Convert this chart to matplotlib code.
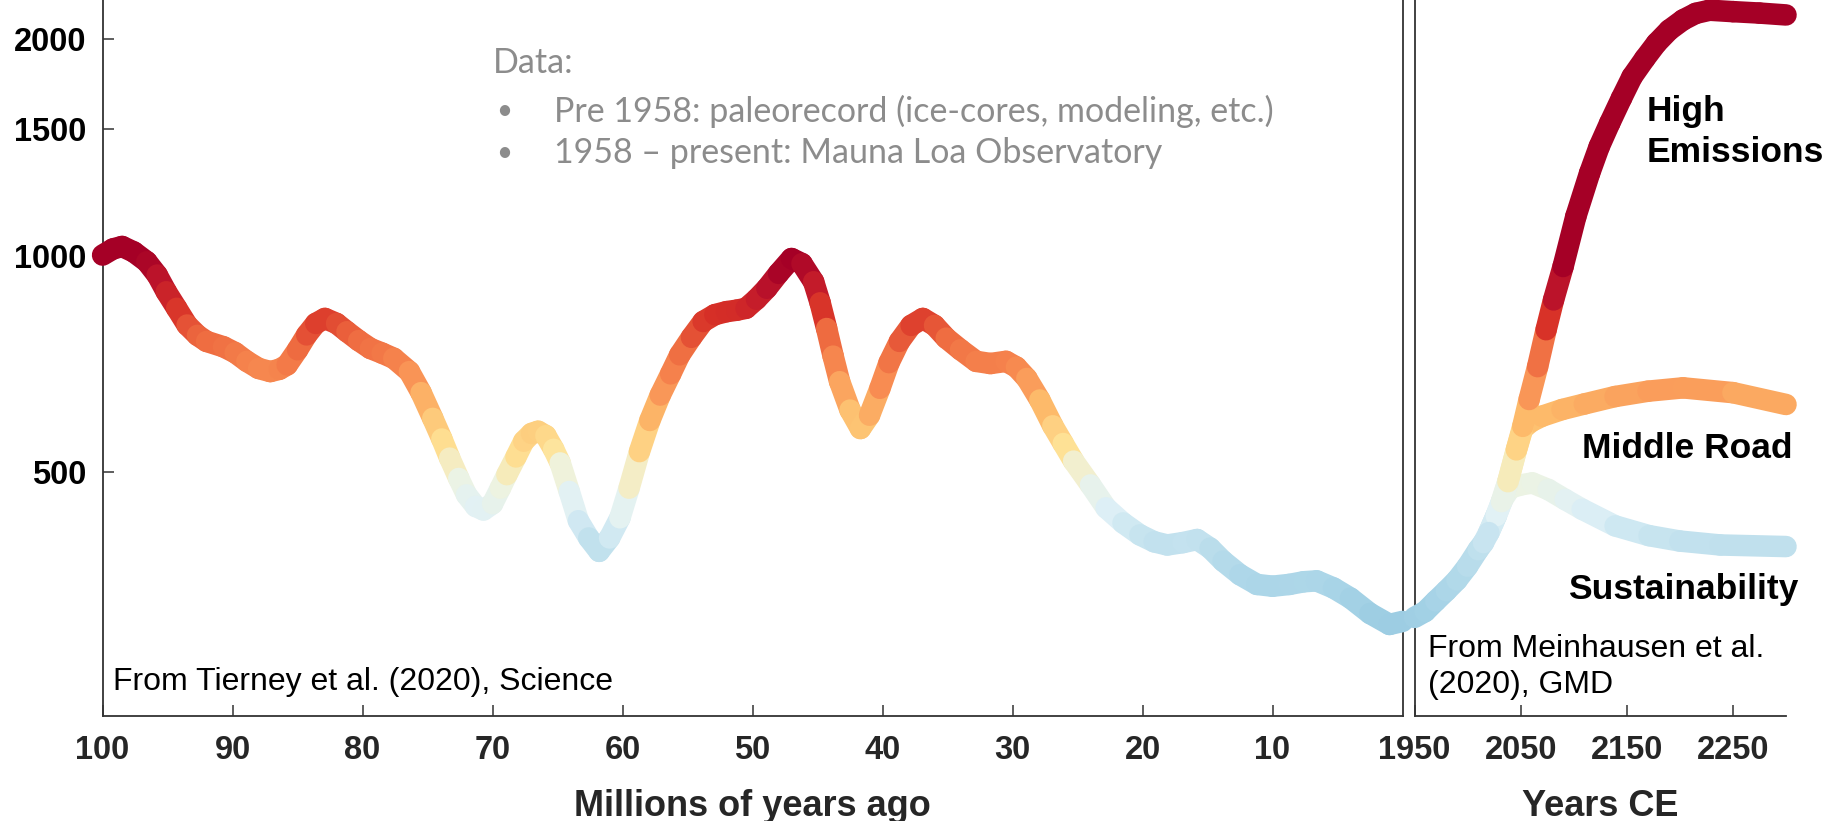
import numpy as np
import matplotlib
matplotlib.use("Agg")
import matplotlib.pyplot as plt
from matplotlib.collections import LineCollection
from matplotlib.colors import to_rgb

# ---------------- data ----------------
paleo_ma = [100, 99.2, 98.5, 97.6, 96.6, 95.8, 95.1, 94.3, 93.5, 92.7, 92.0, 90.7, 89.8, 88.9,
            88.0, 87.1, 86.4, 85.8, 85.0, 84.3, 83.6, 82.9, 82.0, 81.2, 80.3, 79.4, 78.5, 77.6,
            76.4, 75.5, 74.6, 73.9, 73.3, 72.6, 72.0, 71.3, 70.7, 70.0, 69.4, 68.9, 68.2, 67.6,
            67.0, 66.5, 65.9, 65.3, 64.8, 64.1, 63.4, 62.6, 61.8, 61.0, 60.2, 59.5, 58.7, 57.9,
            57.1, 56.3, 55.6, 54.7, 53.8, 52.9, 52.0, 51.2, 50.5, 49.7, 48.9, 48.0, 47.0, 46.2,
            45.3, 44.8, 44.3, 43.8, 43.3, 42.5, 41.7, 41.0, 40.2, 39.5, 38.7, 37.8, 36.9, 36.0,
            35.1, 34.0, 32.8, 31.7, 30.5, 29.7, 28.9, 27.9, 26.9, 26.1, 25.3, 24.0, 22.8, 21.5,
            20.2, 19.1, 18.1, 16.9, 15.8, 14.8, 13.8, 12.5, 11.2, 10.0, 8.7, 7.6, 6.6, 5.3,
            4.0, 2.5, 1.0, 0.0]
paleo_co2 = [1002, 1022, 1030, 1012, 981, 940, 891, 845, 801, 775, 760, 747, 733, 713,
             697, 690, 695, 705, 740, 776, 805, 818, 805, 784, 762, 743, 732, 720,
             690, 645, 594, 556, 523, 490, 465, 448, 443, 452, 475, 496, 525, 552,
             566, 570, 562, 538, 515, 470, 428, 405, 388, 405, 432, 475, 534, 590,
             640, 685, 728, 770, 810, 828, 836, 840, 845, 870, 901, 945, 991, 975,
             920, 860, 792, 725, 668, 610, 575, 600, 654, 710, 760, 800, 818, 800,
             768, 740, 713, 708, 713, 700, 675, 630, 580, 548, 518, 480, 446, 425,
             409, 400, 396, 399, 403, 392, 376, 360, 349, 347, 349, 352, 353, 345,
             334, 318, 307, 310]

hist_year = [1950, 1960, 1970, 1980, 1990, 2000, 2010, 2015, 2020]
hist_co2 = [314, 320, 331, 342, 354, 370, 390, 399, 412]

high_year = [2020, 2027, 2032, 2038, 2046, 2052, 2058, 2066, 2074, 2081, 2090, 2102, 2115,
             2124, 2134, 2145, 2155, 2167, 2178, 2190, 2203, 2215, 2228, 2250, 2275, 2300]
high_co2 = [412, 435, 455, 485, 537, 579, 631, 701, 789, 868, 966, 1134, 1303,
            1418, 1530, 1656, 1774, 1880, 1975, 2060, 2128, 2173, 2195, 2185, 2175, 2162]

mid_year = [2020, 2027, 2032, 2038, 2046, 2052, 2060, 2070, 2089, 2110, 2139, 2170, 2203,
            2250, 2300]
mid_co2 = [412, 435, 455, 485, 537, 575, 588, 598, 611, 622, 637, 648, 655, 645, 621]

sus_year = [2020, 2027, 2033, 2040, 2050, 2061, 2076, 2092, 2108, 2139, 2171, 2200, 2238, 2300]
sus_co2 = [412, 435, 458, 475, 480, 483, 473, 458, 444, 421, 408, 401, 396, 394]

left_ticks = [100, 90, 80, 70, 60, 50, 40, 30, 20, 10]
right_ticks = [1950, 2050, 2150, 2250]
y_ticks = [500, 1000, 1500, 2000]

scenario_names = ["High\nEmissions", "Middle Road", "Sustainability"]

# ---------------- colour mapping (style) ----------------
CMAP_PPM = [280, 330, 390, 440, 490, 530, 600, 680, 760, 830, 900, 980]
CMAP_HEX = ['#92c5de', '#a4d2e6', '#bcdeec', '#e0f1f7', '#eef3df', '#fee397',
            '#fdbd6c', '#f88d52', '#ee6a40', '#d73027', '#c0182b', '#a50026']
CMAP_RGB = np.array([to_rgb(c) for c in CMAP_HEX])


def co2_color(v):
    lv = np.log10(v)
    lp = np.log10(CMAP_PPM)
    return tuple(np.interp(lv, lp, CMAP_RGB[:, i]) for i in range(3))


LW = 15.5


def draw_thick(ax, x, y, z=3):
    x = np.asarray(x, float)
    y = np.asarray(y, float)
    segs = [[(x[i], y[i]), (x[i + 1], y[i + 1])] for i in range(len(x) - 1)]
    cols = [co2_color(np.sqrt(y[i] * y[i + 1])) for i in range(len(x) - 1)]
    lc = LineCollection(segs, colors=cols, linewidths=LW, capstyle='round',
                        joinstyle='round', zorder=z, clip_on=False)
    ax.add_collection(lc)


# ---------------- figure ----------------
W, H = 1828, 821
fig = plt.figure(figsize=(W / 100, H / 100), dpi=100)
fig.patch.set_facecolor('white')

ax1 = fig.add_axes([102.6 / W, 1 - 716 / H, (1402.5 - 102.6) / W, 716 / H])
ax2 = fig.add_axes([1414.5 / W, 1 - 716 / H, (1786 - 1414.5) / W, 716 / H], sharey=ax1)

for ax in (ax1, ax2):
    ax.set_yscale('log')
    ax.set_facecolor('none')
    for s in ax.spines.values():
        s.set_color('#333333')
        s.set_linewidth(1.3)
    ax.spines['top'].set_visible(False)
    ax.tick_params(which='both', direction='in', length=8, width=1.1, color='#333333')
    ax.minorticks_off()

ax2.spines['right'].set_visible(False)

ax1.set_ylim(229, 2268)
ax1.set_xlim(100, 0)
ax2.set_xlim(1950, 2300)

ax1.yaxis.set_major_locator(matplotlib.ticker.FixedLocator(y_ticks))
ax1.yaxis.set_minor_locator(matplotlib.ticker.NullLocator())
ax1.set_yticklabels([str(t) for t in y_ticks], fontsize=23.5, fontweight='bold',
                    family='Liberation Sans', color='black')
ax1.tick_params(axis='y', pad=12)

ax1.set_xticks(left_ticks)
ax1.set_xticklabels([str(t) for t in left_ticks], fontsize=23.5, fontweight='bold',
                    family='Liberation Sans', color='#262626')
ax2.set_xticks(right_ticks)
ax2.set_xticklabels([str(t) for t in right_ticks], fontsize=23.5, fontweight='bold',
                    family='Liberation Sans', color='#262626')
for ax in (ax1, ax2):
    ax.tick_params(axis='x', pad=14)
ax2.tick_params(axis='y', which='both', left=False, labelleft=False, right=False)

ax1.set_xlabel('Millions of years ago', fontsize=26, fontweight='bold',
               family='Liberation Sans', color='#262626', labelpad=16)
ax2.set_xlabel('Years CE', fontsize=26, fontweight='bold',
               family='Liberation Sans', color='#262626', labelpad=16)

# curves
draw_thick(ax1, paleo_ma, paleo_co2)
draw_thick(ax2, sus_year, sus_co2, z=3)
draw_thick(ax2, mid_year, mid_co2, z=4)
draw_thick(ax2, high_year, high_co2, z=5)
draw_thick(ax2, hist_year, hist_co2, z=6)


def fx(x):
    return x / W


def fy(y):
    return 1 - y / H


# annotations
txt_kw = dict(family='Liberation Sans', fontsize=23, color='black', va='center', ha='left')
fig.text(fx(113), fy(682), 'From Tierney et al. (2020), Science', **txt_kw)
fig.text(fx(1428), fy(649), 'From Meinhausen et al.', **txt_kw)
fig.text(fx(1428), fy(685), '(2020), GMD', **txt_kw)

lab_kw = dict(family='Liberation Sans', fontsize=25.5, fontweight='bold', color='black',
              va='center', ha='left')
fig.text(fx(1647), fy(111), 'High', **lab_kw)
fig.text(fx(1647), fy(152), 'Emissions', **lab_kw)
fig.text(fx(1582), fy(449), scenario_names[1], **lab_kw)
fig.text(fx(1568), fy(589), scenario_names[2], **lab_kw)

data_kw = dict(family=['Lato', 'DejaVu Sans'], fontsize=24.5, color='#8c8c8c', va='center', ha='left')
fig.text(fx(493), fy(63), 'Data:', **data_kw)
fig.text(fx(496), fy(111), '•', **dict(data_kw, fontsize=20))
fig.text(fx(496), fy(153), '•', **dict(data_kw, fontsize=20))
fig.text(fx(554), fy(111), 'Pre 1958: paleorecord (ice-cores, modeling, etc.)', **data_kw)
fig.text(fx(554), fy(153), '1958 – present: Mauna Loa Observatory', **data_kw)

fig.savefig('out.png', dpi=100)
